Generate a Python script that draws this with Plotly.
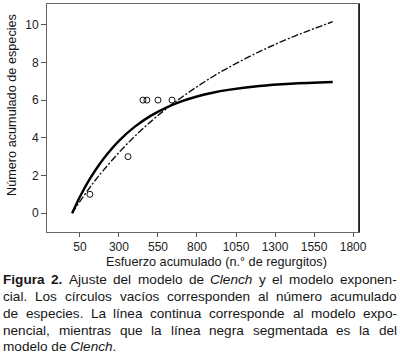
import plotly.graph_objects as go

W, H = 400, 354
ML, MR, MT, MB = 47, 41, 4, 122
PW = W - ML - MR
PH = H - MT - MB

# Observed cumulative species (open circles)
effort_obs = [114, 358, 454, 479, 550, 640]
species_obs = [1, 3, 6, 6, 6, 6]

# Fitted curves
effort_curve = [0, 25, 50, 100, 150, 200, 300, 400, 500, 600, 700, 800, 900, 1000, 1200, 1400, 1670]
exp_curve = [0.00, 0.45, 0.87, 1.63, 2.29, 2.88, 3.84, 4.58, 5.15, 5.59, 5.93, 6.19, 6.39, 6.54, 6.75, 6.87, 6.96]
clench_curve = [0.00, 0.32, 0.62, 1.21, 1.76, 2.27, 3.22, 4.07, 4.83, 5.52, 6.14, 6.71, 7.24, 7.72, 8.57, 9.31, 10.16]

x_ticks = [50, 300, 550, 800, 1050, 1300, 1550, 1800]
y_ticks = [0, 2, 4, 6, 8, 10]

x_title = "Esfuerzo acumulado (n.° de regurgitos)"
y_title = "Número acumulado de especies"

caption_lines = [
    [("Figura", "b"), ("2.", "b"), ("Ajuste", ""), ("del", ""), ("modelo", ""), ("de", ""),
     ("Clench", "i"), ("y", ""), ("el", ""), ("modelo", ""), ("exponen-", "")],
    [("cial.", ""), ("Los", ""), ("círculos", ""), ("vacíos", ""), ("corresponden", ""), ("al", ""),
     ("número", ""), ("acumulado", "")],
    [("de", ""), ("especies.", ""), ("La", ""), ("línea", ""), ("continua", ""), ("corresponde", ""),
     ("al", ""), ("modelo", ""), ("expo-", "")],
    [("nencial,", ""), ("mientras", ""), ("que", ""), ("la", ""), ("línea", ""), ("negra", ""),
     ("segmentada", ""), ("es", ""), ("la", ""), ("del", "")],
]
caption_last = "modelo de <i>Clench</i>."

FONT = "Liberation Sans, Arial, Helvetica, sans-serif"
CAP_SIZE = 13.6
TXT = "#161616"

REG = {' ': 278, ',': 278, '-': 333, '.': 278, '2': 556,
       'A': 667, 'C': 722, 'F': 611, 'L': 556,
       'a': 556, 'b': 556, 'c': 500, 'd': 556, 'e': 556, 'f': 278, 'g': 556, 'h': 556,
       'i': 222, 'j': 222, 'k': 500, 'l': 222, 'm': 833, 'n': 556, 'o': 556, 'p': 556,
       'q': 556, 'r': 333, 's': 500, 't': 278, 'u': 556, 'v': 500, 'w': 722, 'x': 500,
       'y': 500, 'z': 500, 'í': 278, 'ú': 556, 'é': 556, 'á': 556, 'ó': 556}
BOLD = {'F': 611, 'i': 278, 'g': 611, 'u': 611, 'r': 389, 'a': 556, '2': 556, '.': 278}


def word_w(word, style, size):
    tab = BOLD if style == "b" else REG
    return sum(tab.get(ch, 556) for ch in word) * size / 1000.0


def px2paper_x(px):
    return (px - ML) / PW


def px2paper_y(py):
    return (H - MB - py) / PH


fig = go.Figure()
fig.add_trace(go.Scatter(x=effort_curve, y=clench_curve, mode="lines", line_shape="spline",
                         line=dict(color="#111", width=1.4, dash="7px,2px,2px,2px"),
                         hoverinfo="skip", showlegend=False))
fig.add_trace(go.Scatter(x=effort_curve, y=exp_curve, mode="lines", line_shape="spline",
                         line=dict(color="#000", width=2.4),
                         hoverinfo="skip", showlegend=False))
fig.add_trace(go.Scatter(x=effort_obs, y=species_obs, mode="markers",
                         marker=dict(symbol="circle-open", size=6, color="#111", line=dict(width=1)),
                         showlegend=False))

annotations = []
LEFT, RIGHT = 3, 397
baselines = [284, 300.8, 317.6, 334.4, 351.2]
for li, words in enumerate(caption_lines):
    widths = [word_w(w, s, CAP_SIZE) for w, s in words]
    gap = (RIGHT - LEFT - sum(widths)) / (len(words) - 1)
    xpos = LEFT
    yc = baselines[li] - 4.4
    for (w, s), ww in zip(words, widths):
        t = f"<b>{w}</b>" if s == "b" else (f"<i>{w}</i>" if s == "i" else w)
        annotations.append(dict(x=px2paper_x(xpos), y=px2paper_y(yc), xref="paper", yref="paper",
                                text=t, showarrow=False, xanchor="left", yanchor="middle",
                                borderpad=0, borderwidth=0,
                                font=dict(size=CAP_SIZE, family=FONT, color=TXT)))
        xpos += ww + gap
annotations.append(dict(x=px2paper_x(LEFT), y=px2paper_y(baselines[4] - 4.4), xref="paper", yref="paper",
                        text=caption_last, showarrow=False, xanchor="left", yanchor="middle",
                        borderpad=0, borderwidth=0,
                        font=dict(size=CAP_SIZE, family=FONT, color=TXT)))
# axis titles
annotations.append(dict(x=px2paper_x(217), y=px2paper_y(262), xref="paper", yref="paper",
                        text=x_title, showarrow=False, xanchor="center", yanchor="middle",
                        borderpad=0, borderwidth=0,
                        font=dict(size=12.7, family=FONT, color=TXT)))
annotations.append(dict(x=px2paper_x(12), y=px2paper_y(105), xref="paper", yref="paper",
                        text=y_title, showarrow=False, xanchor="center", yanchor="middle",
                        textangle=-90, borderpad=0, borderwidth=0,
                        font=dict(size=12.7, family=FONT, color=TXT)))

fig.update_layout(
    width=W, height=H,
    margin=dict(l=ML, r=MR, t=MT, b=MB, pad=0),
    paper_bgcolor="white", plot_bgcolor="white",
    annotations=annotations,
    shapes=[dict(type="line", xref="paper", yref="paper", x0=1, x1=1, y0=0, y1=1,
                 line=dict(color="#111", width=1.6))],
    font=dict(family=FONT, color=TXT),
    hovermode=False,
)
fig.update_xaxes(range=[-161, 1838], tickvals=x_ticks, ticks="outside", ticklen=4,
                 tickcolor="#555", tickwidth=1, showline=True, linecolor="#666", linewidth=1,
                 mirror=True, showgrid=False, zeroline=False,
                 tickfont=dict(size=12, family=FONT, color="#222"))
fig.update_yaxes(range=[-1.0, 11.1], tickvals=y_ticks, ticks="outside", ticklen=5,
                 tickcolor="#555", tickwidth=1, showline=True, linecolor="#666", linewidth=1,
                 mirror=True, showgrid=False, zeroline=False,
                 tickfont=dict(size=12, family=FONT, color="#222"))

fig.write_html("out.html", config={"displayModeBar": False},
               post_script="document.body.style.margin='0';document.body.style.overflow='hidden';")
